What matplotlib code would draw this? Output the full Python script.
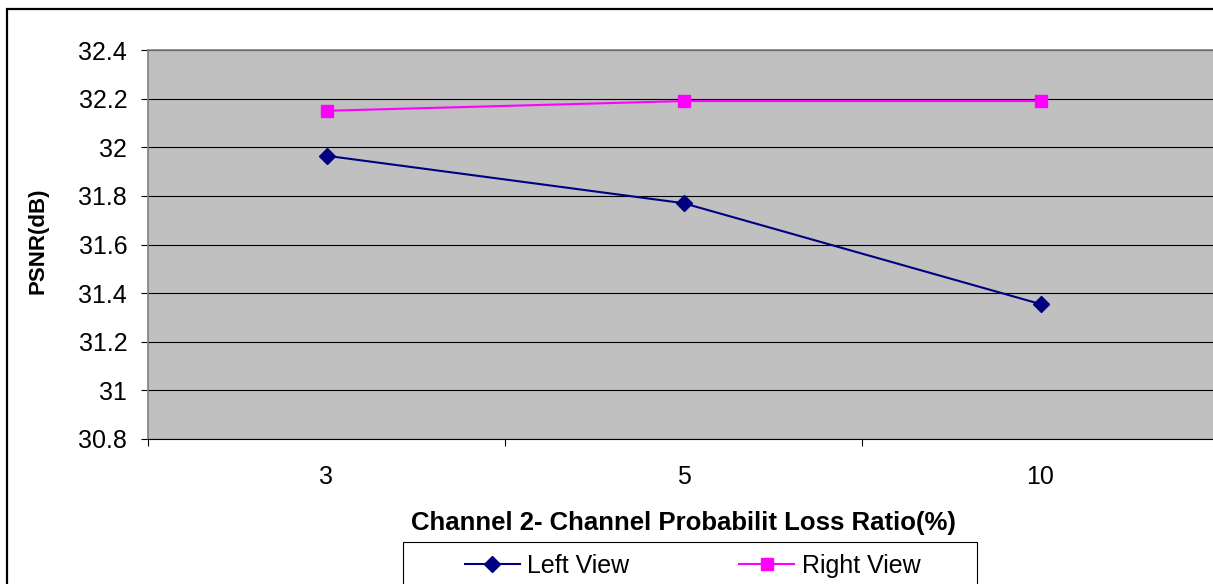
import numpy as np
import matplotlib.pyplot as plt
from matplotlib.patches import Rectangle

plt.rcParams['font.family'] = ['Liberation Sans', 'DejaVu Sans']

# data
loss_ratio = ['3', '5', '10']
left_view = [31.965, 31.77, 31.355]
right_view = [32.15, 32.19, 32.19]

W, H = 1213, 584
fig = plt.figure(figsize=(W / 100, H / 100), dpi=100)

# plot area in pixel terms (right edge runs slightly past the picture)
x0, x1, y0, y1 = 148, 1219, 50, 439
ax = fig.add_axes([x0 / W, 1 - y1 / H, (x1 - x0) / W, (y1 - y0) / H])
ax.set_facecolor('#C0C0C0')

x = np.arange(len(loss_ratio))
ax.plot(x, left_view, color='#000080', lw=1.5, marker='D', ms=8,
        label='Left View', zorder=3)
ax.plot(x, right_view, color='#FF00FF', lw=1.5, marker='s', ms=8.5,
        label='Right View', zorder=3)

ax.set_xlim(-0.5, 2.5)
ax.set_ylim(30.8, 32.4)
ax.set_yticks(np.arange(30.8, 32.41, 0.2))
ax.set_yticklabels(['30.8', '31', '31.2', '31.4', '31.6', '31.8', '32', '32.2', '32.4'])
ax.yaxis.grid(True, color='black', lw=0.8)
ax.set_axisbelow(True)

ax.set_xticks(x)
ax.set_xticklabels(loss_ratio)
ax.set_xticks([-0.5, 0.5, 1.5, 2.5], minor=True)
ax.tick_params(axis='x', which='major', length=0, pad=19, labelsize=18)
ax.tick_params(axis='x', which='minor', length=5, width=0.8, color='black')
ax.tick_params(axis='y', length=5, width=0.8, pad=10, labelsize=18)

for s in ['top', 'left']:
    ax.spines[s].set_color('#808080')
    ax.spines[s].set_linewidth(1.2)
ax.spines['right'].set_visible(False)
ax.spines['bottom'].set_color('black')
ax.spines['bottom'].set_linewidth(0.8)

ax.set_ylabel('PSNR(dB)', fontsize=16, fontweight='bold')
ax.yaxis.set_label_coords((48 - x0) / (x1 - x0), 0.51)
ax.set_xlabel('Channel 2- Channel Probabilit Loss Ratio(%)', fontsize=18.5,
              fontweight='bold')
ax.xaxis.set_label_coords(0.5, (y1 - 511) / (y1 - y0))

# legend box drawn separately, cut off at the bottom like the reference
fig.patches.append(Rectangle((403 / W, -0.05), (977 - 403) / W, 0.05 + 1 - 542 / H,
                             transform=fig.transFigure, facecolor='white',
                             edgecolor='black', lw=0.8, clip_on=False))
fig.legend(loc='center left', bbox_to_anchor=(452 / W, 1 - 566 / H), ncol=2,
           frameon=False, fontsize=18, borderpad=0, handlelength=2.2,
           handletextpad=0.3, columnspacing=4.4)

# outer chart border
fig.patches.append(Rectangle((7 / W, -0.1), 1.2, 1.1 - 9 / H,
                             transform=fig.transFigure, facecolor='none',
                             edgecolor='black', lw=1.6, clip_on=False))

fig.savefig('out.png', dpi=100)
